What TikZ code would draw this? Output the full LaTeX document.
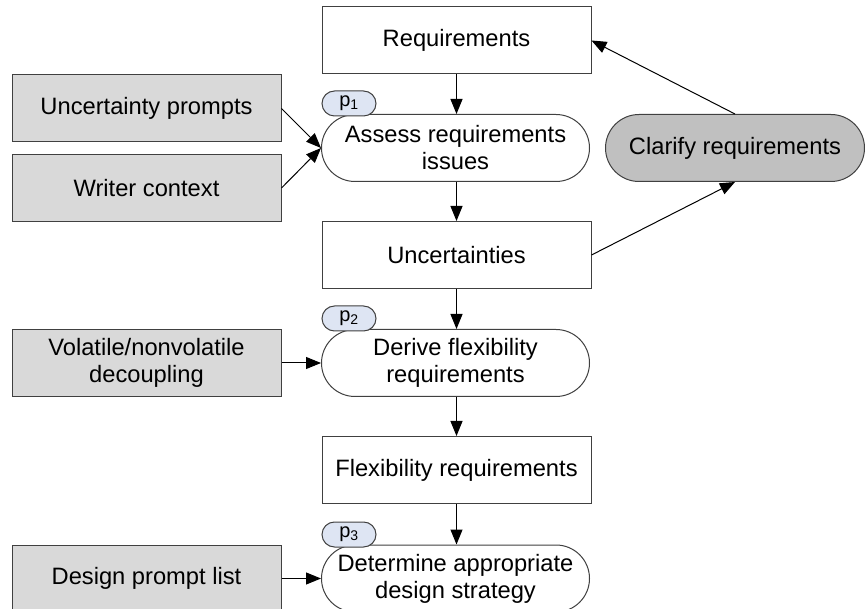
\documentclass[tikz,border=0pt]{standalone}
\usepackage{fontspec}
\setmainfont{Liberation Sans}
\usetikzlibrary{arrows.meta}
\definecolor{boxgray}{RGB}{217,217,217}
\definecolor{clargray}{RGB}{192,192,192}
\definecolor{tagblue}{RGB}{222,229,243}
\definecolor{edgegray}{RGB}{64,64,64}
\begin{document}
\begin{tikzpicture}[x=1pt,y=-1pt,
  every node/.style={font=\fontsize{23.7}{27}\selectfont, align=center, inner sep=0pt, line width=1pt},
  plainbox/.style={draw=edgegray, fill=white, minimum width=269pt, minimum height=67pt},
  inbox/.style={draw=edgegray, fill=boxgray, minimum width=269pt, minimum height=67pt},
  procbox/.style={draw=edgegray, fill=white, rounded corners=33.5pt, minimum width=268pt, minimum height=67pt},
  clarbox/.style={draw=edgegray, fill=clargray, rounded corners=33.5pt, minimum width=259pt, minimum height=67pt},
  tagbox/.style={draw=edgegray, fill=tagblue, rounded corners=12.5pt, minimum width=54pt, minimum height=25pt, font=\fontsize{20}{20}\selectfont},
  conn/.style={line width=1pt, -{Triangle[length=15pt,width=12pt]}}
]
\path[use as bounding box, clip] (0,0) rectangle (865,609);

\node[plainbox] (req) at (456.5,40.5) {Requirements};
\node[procbox] (assess) at (455.5,148) {Assess requirements\\issues};
\node[tagbox] (t1) at (349,103.5) {p\textsubscript{1}};
\node[inbox] (up) at (146.5,108.5) {Uncertainty prompts};
\node[inbox] (wc) at (146.5,188) {Writer context};
\node[clarbox] (clar) at (735,148) {Clarify requirements};
\node[plainbox] (unc) at (456.5,255) {Uncertainties};
\node[procbox] (derive) at (455.5,363) {Derive flexibility\\requirements};
\node[tagbox] (t2) at (349,318.5) {p\textsubscript{2}};
\node[inbox] (vol) at (146.5,363) {Volatile/nonvolatile\\decoupling};
\node[plainbox] (flex) at (456.5,470) {Flexibility requirements};
\node[procbox] (det) at (455.5,578.5) {Determine appropriate\\design strategy};
\node[tagbox] (t3) at (349,534.5) {p\textsubscript{3}};
\node[inbox] (dpl) at (146.5,578.5) {Design prompt list};

\draw[conn] (req.south) -- (req.south |- assess.north);
\draw[conn] (up.east) -- (assess.west);
\draw[conn] (wc.east) -- (assess.west);
\draw[conn] (req.south |- assess.south) -- (unc.north);
\draw[conn] (unc.east) -- (clar.south);
\draw[conn] (clar.north) -- (req.east);
\draw[conn] (unc.south) -- (unc.south |- derive.north);
\draw[conn] (vol.east) -- (derive.west);
\draw[conn] (unc.south |- derive.south) -- (flex.north);
\draw[conn] (flex.south) -- (flex.south |- det.north);
\draw[conn] (dpl.east) -- (det.west);
\end{tikzpicture}
\end{document}
